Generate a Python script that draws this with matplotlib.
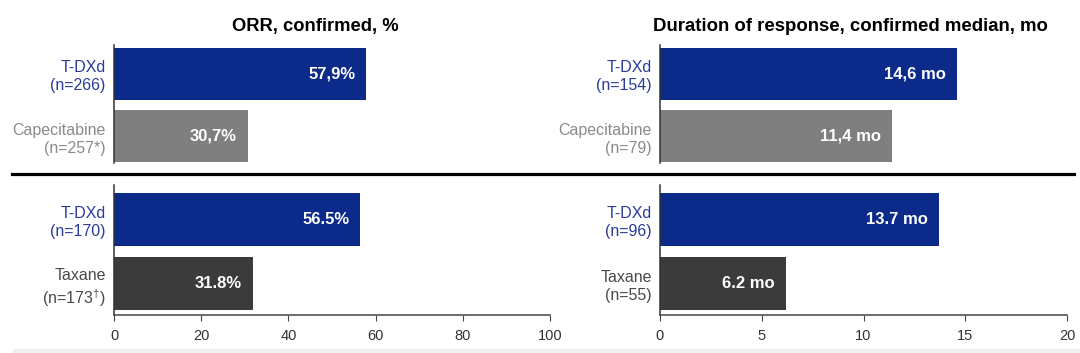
import matplotlib.pyplot as plt
from matplotlib.lines import Line2D
from matplotlib.patches import Rectangle

plt.rcParams['font.family'] = ['Liberation Sans', 'DejaVu Sans']
plt.rcParams['mathtext.fontset'] = 'custom'
plt.rcParams['mathtext.rm'] = 'Liberation Sans'

# data
top_labels = ['T-DXd\n(n=266)', 'Capecitabine\n(n=257*)']
top_orr = [57.9, 30.7]
top_orr_text = ['57,9%', '30,7%']
top_dor_labels = ['T-DXd\n(n=154)', 'Capecitabine\n(n=79)']
top_dor = [14.6, 11.4]
top_dor_text = ['14,6 mo', '11,4 mo']

bot_labels = ['T-DXd\n(n=170)', 'Taxane\n(n=173$^{\\dagger}$)']
bot_orr = [56.5, 31.8]
bot_orr_text = ['56.5%', '31.8%']
bot_dor_labels = ['T-DXd\n(n=96)', 'Taxane\n(n=55)']
bot_dor = [13.7, 6.2]
bot_dor_text = ['13.7 mo', '6.2 mo']

orr_ticks = [0, 20, 40, 60, 80, 100]
dor_ticks = [0, 5, 10, 15, 20]

navy = '#0b2a8a'
top_colors = [navy, '#7f7f7f']
bot_colors = [navy, '#3b3b3b']
top_label_colors = ['#2a3c98', '#8a8a8a']
bot_label_colors = ['#2a3c98', '#4a4a4a']


def drawPanel(ax, labels, values, texts, colors, label_colors, xmax, ticks, ylim, show_x):
    ypos = [1, 0]
    ax.barh(ypos, values, height=0.83, color=colors)
    for y, v, t in zip(ypos, values, texts):
        ax.annotate(t, (v, y), xytext=(-8, 0), textcoords='offset points',
                    ha='right', va='center', color='white', fontsize=12, fontweight='bold')
    ax.set_xlim(0, xmax)
    ax.set_ylim(*ylim)
    ax.set_yticks(ypos)
    ax.set_yticklabels(labels, fontsize=11.5, linespacing=1.25)
    for lab, c in zip(ax.get_yticklabels(), label_colors):
        lab.set_color(c)
    ax.tick_params(axis='y', length=0, pad=6)
    for s in ['top', 'right']:
        ax.spines[s].set_visible(False)
    ax.spines['left'].set_color('#333333')
    ax.spines['left'].set_linewidth(1.1)
    if show_x:
        ax.set_xticks(ticks)
        ax.tick_params(axis='x', length=4, color='#444444', labelsize=10.5, labelcolor='#333333', pad=6)
        ax.spines['bottom'].set_color('#444444')
        ax.spines['bottom'].set_linewidth(1.1)
    else:
        ax.set_xticks([])
        ax.spines['bottom'].set_visible(False)


fig = plt.figure(figsize=(10.8, 3.53), dpi=100)
ax1 = fig.add_axes([0.1056, 0.538, 0.4037, 0.334])
ax2 = fig.add_axes([0.6111, 0.538, 0.3769, 0.334])
ax3 = fig.add_axes([0.1056, 0.1076, 0.4037, 0.368])
ax4 = fig.add_axes([0.6111, 0.1076, 0.3769, 0.368])

drawPanel(ax1, top_labels, top_orr, top_orr_text, top_colors, top_label_colors, 100, orr_ticks, (-0.43, 1.46), False)
drawPanel(ax2, top_dor_labels, top_dor, top_dor_text, top_colors, top_label_colors, 20, dor_ticks, (-0.43, 1.46), False)
drawPanel(ax3, bot_labels, bot_orr, bot_orr_text, bot_colors, bot_label_colors, 100, orr_ticks, (-0.49, 1.54), True)
drawPanel(ax4, bot_dor_labels, bot_dor, bot_dor_text, bot_colors, bot_label_colors, 20, dor_ticks, (-0.49, 1.54), True)

fig.text(315 / 1080, 0.926, 'ORR, confirmed, %', ha='center', va='center', fontsize=13.2, fontweight='bold')
fig.text(850 / 1080, 0.926, 'Duration of response, confirmed median, mo', ha='center', va='center',
         fontsize=13.4, fontweight='bold')

fig.add_artist(Line2D([12 / 1080, 1074 / 1080], [0.507, 0.507], color='black', lw=2.3,
                      transform=fig.transFigure))
fig.patches.append(Rectangle((13 / 1080, 0), 1, 4 / 353, transform=fig.transFigure,
                             color='#f0f0f0', zorder=0))

fig.savefig('out.png', dpi=100)
